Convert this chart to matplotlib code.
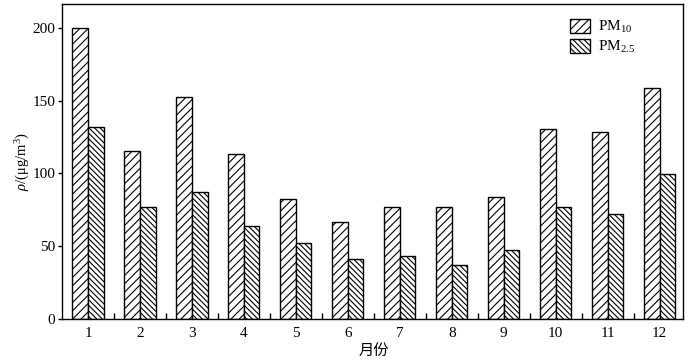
import numpy as np
import matplotlib
matplotlib.use("Agg")
import matplotlib.pyplot as plt

plt.rcParams['font.family'] = ['Liberation Serif', 'Noto Sans CJK SC']
plt.rcParams['mathtext.fontset'] = 'custom'
plt.rcParams['mathtext.rm'] = 'Liberation Serif'
plt.rcParams['mathtext.it'] = 'Liberation Serif:italic'
plt.rcParams['hatch.linewidth'] = 0.8

months = ['1', '2', '3', '4', '5', '6', '7', '8', '9', '10', '11', '12']
pm10 = [200, 115.5, 152.3, 113.4, 82.5, 66.4, 76.8, 76.8, 84, 130.4, 128.8, 158.5]
pm25 = [132, 76.8, 87.3, 63.9, 52.2, 41.4, 43.3, 36.9, 47.4, 76.8, 72, 99.7]

x = np.arange(1, len(months) + 1)
w = 0.3

fig = plt.figure(figsize=(7, 3.61), dpi=100)
ax = fig.add_axes([0.0886, 0.1163, 0.8871, 0.8727])

ax.bar(x - w / 2, pm10, width=w, color='white', edgecolor='black', linewidth=1.0,
       hatch='////', label='PM$_{10}$')
ax.bar(x + w / 2, pm25, width=w, color='white', edgecolor='black', linewidth=1.0,
       hatch='\\\\\\\\\\\\', label='PM$_{2.5}$')

ax.set_xlim(0.5, 12.45)
ax.set_ylim(0, 216.5)
ax.set_yticks([0, 50, 100, 150, 200])
ax.set_xticks(x)
ax.set_xticklabels(months)
ax.set_xticks(np.arange(1.5, 12, 1), minor=True)
ax.tick_params(axis='x', which='major', length=0, pad=6, labelsize=11)
ax.tick_params(axis='x', which='minor', direction='in', length=4, width=1)
ax.tick_params(axis='y', direction='out', length=3, width=1, pad=2, labelsize=11)
for s in ax.spines.values():
    s.set_linewidth(1.0)

ax.set_ylabel(r'$\it{\rho}$/(μg/m$^3$)', fontsize=10.5)
ax.yaxis.set_label_coords(-0.048, 0.5)
ax.set_xlabel('月份', fontsize=11, family=['Noto Sans CJK SC'])
ax.xaxis.set_label_coords(0.502, -0.075)

ax.legend(loc='upper right', bbox_to_anchor=(0.945, 0.995), frameon=False, fontsize=11,
          handlelength=1.3, handleheight=1.0, handletextpad=0.5, labelspacing=0.25)

fig.savefig('out.png', dpi=100)
